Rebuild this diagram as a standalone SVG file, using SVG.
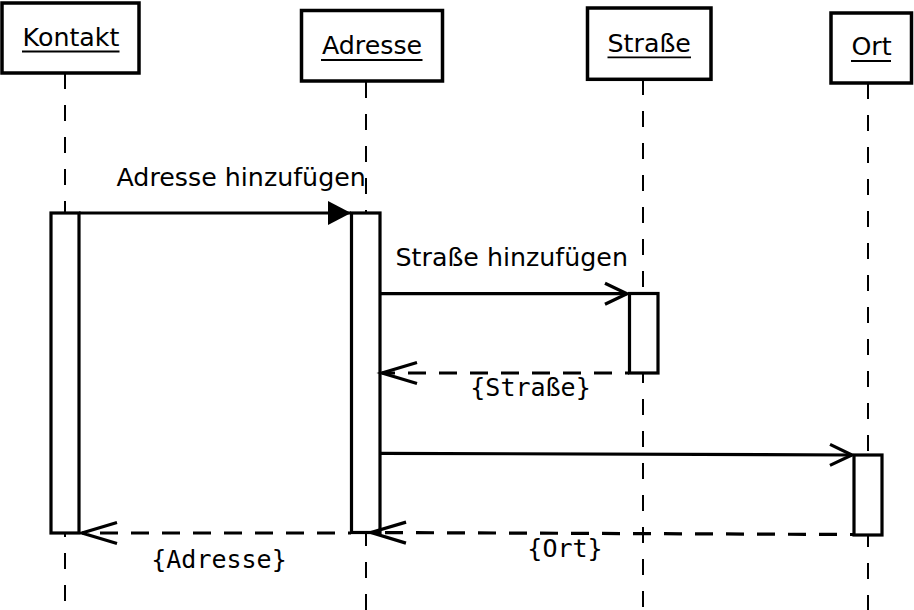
<svg xmlns="http://www.w3.org/2000/svg" width="914" height="610" viewBox="0 0 914 610">
<style>
.head{fill:#fff;stroke:#000;stroke-width:3.5}
.act{fill:#fff;stroke:#000;stroke-width:3.2}
.life{fill:none;stroke:#000;stroke-width:2;stroke-dasharray:16 16}
.ul{stroke:#000;stroke-width:1.8}
.t{font-family:"DejaVu Sans",sans-serif;font-size:25.3px;fill:#000}
.m{font-family:"DejaVu Sans Mono",monospace;font-size:25px;fill:#000}
.msg{fill:none;stroke:#000;stroke-width:3.2}
.ret{fill:none;stroke:#000;stroke-width:3.2;stroke-dasharray:18 13}
</style>
<defs>
<marker id="filled" markerUnits="userSpaceOnUse" viewBox="-30 -15 32 30" refX="0" refY="0" markerWidth="32" markerHeight="30" orient="auto" overflow="visible">
<path d="M-23,-12 L0,0 L-23,12 Z" fill="#000"/>
</marker>
<marker id="open" markerUnits="userSpaceOnUse" viewBox="-30 -15 32 30" refX="0" refY="0" markerWidth="32" markerHeight="30" orient="auto" overflow="visible">
<path d="M-22,-10.5 L0,0 L-22,10.5" fill="none" stroke="#000" stroke-width="3.2"/>
</marker>
<marker id="openR" markerUnits="userSpaceOnUse" viewBox="-40 -15 42 30" refX="0" refY="0" markerWidth="42" markerHeight="30" orient="auto" overflow="visible">
<path d="M-35,-10.5 L0,0 L-35,10.5" fill="none" stroke="#000" stroke-width="3.2"/>
</marker>
</defs>

<g id="lifelines">
<line class="life" x1="65" y1="73" x2="65" y2="610"/>
<line class="life" x1="366" y1="82" x2="366" y2="610"/>
<line class="life" x1="643" y1="79" x2="643" y2="610"/>
<line class="life" x1="868" y1="83" x2="868" y2="610"/>
</g>

<g id="kontakt">
<rect class="head" x="2" y="3" width="137" height="70"/>
<text class="t" x="71" y="46" text-anchor="middle">Kontakt</text>
<line class="ul" x1="22" y1="51.5" x2="119.5" y2="51.5"/>
<rect class="act" x="51" y="213" width="28" height="320"/>
</g>

<g id="adresse">
<rect class="head" x="301.5" y="10.5" width="141" height="70.5"/>
<text class="t" x="372" y="53.5" text-anchor="middle">Adresse</text>
<line class="ul" x1="321" y1="60" x2="422.5" y2="60"/>
<rect class="act" x="351.5" y="213" width="28.5" height="319.5"/>
</g>

<g id="strasse">
<rect class="head" x="587.5" y="8" width="123.5" height="71.3"/>
<text class="t" x="649.2" y="51.7" text-anchor="middle">Straße</text>
<line class="ul" x1="607.5" y1="57.3" x2="691" y2="57.3"/>
<rect class="act" x="629.5" y="293.5" width="28.5" height="79.5"/>
</g>

<g id="ort">
<rect class="head" x="831" y="13" width="80.5" height="70"/>
<text class="t" x="871.5" y="55" text-anchor="middle">Ort</text>
<line class="ul" x1="851" y1="61" x2="891" y2="61"/>
<rect class="act" x="854" y="455" width="28" height="80"/>
</g>

<g id="connectors">
<path class="msg" d="M79,213 L351,213" marker-end="url(#filled)"/>
<text class="t" x="116.5" y="186">Adresse hinzufügen</text>
<path class="msg" d="M380,293.7 L627,293.7" marker-end="url(#open)"/>
<text class="t" x="395.5" y="265.7">Straße hinzufügen</text>
<path class="ret" d="M629,373 L382,373" stroke-dashoffset="14" marker-end="url(#openR)"/>
<text class="m" x="530.5" y="395.5" text-anchor="middle">{Straße}</text>
<path class="msg" d="M380,453.3 L852,455" marker-end="url(#open)"/>
<path class="ret" d="M854,534.5 L371,532.5" stroke-dashoffset="14" marker-end="url(#openR)"/>
<text class="m" x="565" y="556.5" text-anchor="middle">{Ort}</text>
<path class="ret" d="M351,533 L82,533" stroke-dashoffset="15" marker-end="url(#openR)"/>
<text class="m" x="219" y="568" text-anchor="middle">{Adresse}</text>
</g>
</svg>
